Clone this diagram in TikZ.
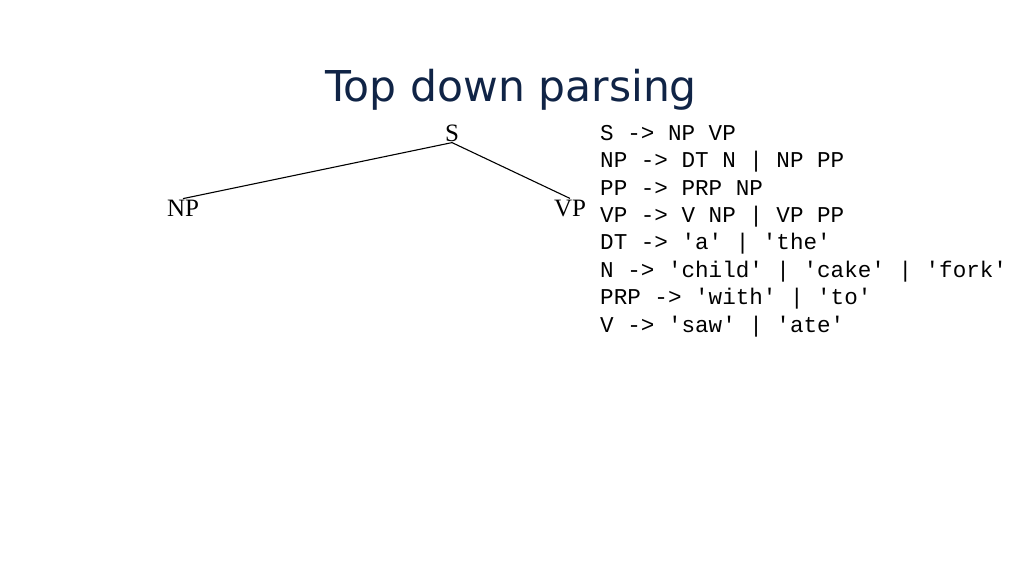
\documentclass[tikz,border=0pt]{standalone}
\usepackage{fontspec}
\setmainfont{Liberation Serif}
\newfontfamily\titlefont{DejaVu Sans}
\setmonofont{Liberation Mono}
\usetikzlibrary{positioning}
\definecolor{navy}{RGB}{16,36,70}

\begin{document}
\begin{tikzpicture}[x=1pt, y=-1pt, cat/.style={font=\fontsize{25}{27}\selectfont, inner sep=1pt},
    rule/.style={font=\ttfamily\fontsize{22.6}{27.4}\selectfont, anchor=north west, align=left, inner sep=0pt}]
  \useasboundingbox (0,0) rectangle (1024,576);

  \node[font=\titlefont\fontsize{42.5}{46}\selectfont, text=navy] (title) at (511,90) {Top down parsing};

  \node[cat] (S) at (452,133) {S};
  \node[cat] (NP) at (183,208) {NP};
  \node[cat] (VP) at (570,208) {VP};
  \draw[line width=1.1pt] (S.south) -- (NP.north);
  \draw[line width=1.1pt] (S.south) -- (VP.north);

  \node[rule] (grammar) at (600,125) {S -> NP VP\\
NP -> DT N | NP PP\\
PP -> PRP NP\\
VP -> V NP | VP PP\\
DT -> 'a' | 'the'\\
N -> 'child' | 'cake' | 'fork'\\
PRP -> 'with' | 'to'\\
V -> 'saw' | 'ate'};
\end{tikzpicture}
\end{document}
